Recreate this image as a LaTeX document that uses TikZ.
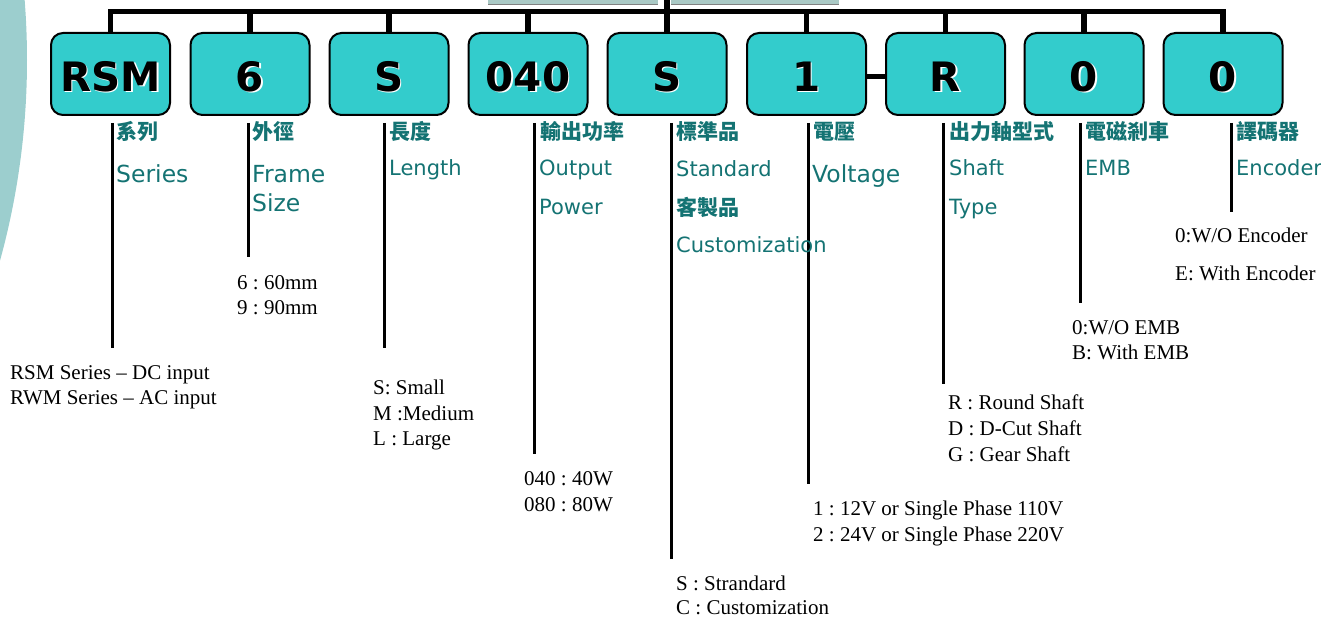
\documentclass[tikz,border=0pt]{standalone}
\usepackage{fontspec}
\setmainfont{Liberation Serif}
\setsansfont{DejaVu Sans}
\newfontfamily\cjkfont{Noto Sans CJK TC}
\frenchspacing

\definecolor{boxcyan}{RGB}{51,204,204}
\definecolor{labteal}{RGB}{20,115,115}
\definecolor{bgteal}{RGB}{156,206,206}
\definecolor{photogray}{RGB}{170,201,197}

\newcommand{\shadowed}[1]{\rlap{\kern1.5pt\raisebox{-1.5pt}{\color{white}#1}}#1}

\tikzset{
  codebox/.style={draw=black, line width=2pt, fill=boxcyan, rounded corners=12pt,
    minimum width=119pt, minimum height=82pt, inner sep=0pt,
    text height=35pt, text depth=0pt, font=\sffamily\bfseries\fontsize{40.5}{41}\selectfont},
  cjklab/.style={anchor=base west, inner sep=0pt, text=labteal,
    font=\cjkfont\bfseries\fontsize{21}{21}\selectfont},
  englab/.style={anchor=base west, inner sep=0pt, text=labteal,
    font=\sffamily\fontsize{21}{21}\selectfont},
  englabbig/.style={englab, font=\sffamily\fontsize{23.5}{24}\selectfont},
  desc/.style={anchor=base west, inner sep=0pt, font=\fontsize{21}{21}\selectfont},
  bus/.style={line width=5.5pt},
  drop/.style={line width=3pt},
}

\begin{document}
\begin{tikzpicture}[x=1pt, y=-1pt]
\useasboundingbox (0,0) rectangle (1321,617);
\clip (0,0) rectangle (1321,617);

% background shapes
\fill[bgteal] (-727,60) circle (754pt);
\fill[photogray] (488,-5) rectangle (658,4.5);
\fill[photogray] (671,-5) rectangle (839,4.5);
\draw[gray, line width=0.8pt] (488,4.5) -- (658,4.5) (671,4.5) -- (839,4.5);

% the code boxes
\node[codebox] (series) at (110.5,74) {\shadowed{RSM}};
\node[codebox] (frame)  at (250,74)   {\shadowed{6}};
\node[codebox] (length) at (389,74)   {\shadowed{S}};
\node[codebox] (power)  at (528,74)   {\shadowed{040}};
\node[codebox] (std)    at (667,74)   {\shadowed{S}};
\node[codebox] (volt)   at (806.5,74) {\shadowed{1}};
\node[codebox] (shaft)  at (945.5,74) {\shadowed{R}};
\node[codebox] (emb)    at (1084,74)  {\shadowed{0}};
\node[codebox] (enc)    at (1223,74)  {\shadowed{0}};

% bus on top
\coordinate (bustop) at (667,13);
\coordinate (photo) at (667,0);
\draw[bus] (series.north) -- ++(0,-20.5) -| (enc.north);
\draw[bus] (frame.north) -- (frame.north |- bustop);
\draw[bus] (length.north) -- (length.north |- bustop);
\draw[bus] (power.north) -- (power.north |- bustop);
\draw[bus] (std.north) -- (bustop) -- (photo);
\draw[bus] (volt.north) -- (volt.north |- bustop);
\draw[bus] (shaft.north) -- (shaft.north |- bustop);
\draw[bus] (emb.north) -- (emb.north |- bustop);
\draw[line width=5pt] ([yshift=-2.5pt]volt.east) -- ([yshift=-2.5pt]shaft.west);

% drop lines
\coordinate (d1t) at (112,123);  \coordinate (d1b) at (112,348);
\coordinate (d2t) at (248,123);  \coordinate (d2b) at (248,257);
\coordinate (d3t) at (384,123);  \coordinate (d3b) at (384,348);
\coordinate (d4t) at (534,123);  \coordinate (d4b) at (534,454);
\coordinate (d5t) at (671,123);  \coordinate (d5b) at (671,559);
\coordinate (d6t) at (808,123);  \coordinate (d6b) at (808,484);
\coordinate (d7t) at (943,123);  \coordinate (d7b) at (943,384);
\coordinate (d8t) at (1080,123); \coordinate (d8b) at (1080,303);
\coordinate (d9t) at (1231,123); \coordinate (d9b) at (1231,212);
\draw[drop] (d1t) -- (d1b);
\draw[drop] (d2t) -- (d2b);
\draw[drop] (d3t) -- (d3b);
\draw[drop] (d4t) -- (d4b);
\draw[drop] (d5t) -- (d5b);
\draw[drop] (d6t) -- (d6b);
\draw[drop] (d7t) -- (d7b);
\draw[drop] (d8t) -- (d8b);
\draw[drop] (d9t) -- (d9b);

% labels under the boxes
\node[cjklab] (l1a) at (116,140) {系列};
\node[englabbig] (l1b) at (116,183) {Series};
\node[cjklab] (l2a) at (252,140) {外徑};
\node[englabbig] (l2b) at (252,183) {Frame};
\node[englabbig] (l2c) at (252,212) {Size};
\node[cjklab] (l3a) at (389,140) {長度};
\node[englab] (l3b) at (389,176) {Length};
\node[cjklab] (l4a) at (540,140) {輸出功率};
\node[englab] (l4b) at (539,176) {Output};
\node[englab] (l4c) at (539,215) {Power};
\node[cjklab] (l5a) at (676,140) {標準品};
\node[englab] (l5b) at (676,177) {Standard};
\node[cjklab] (l5c) at (676,216) {客製品};
\node[englab] (l5d) at (676,253) {Customization};
\node[cjklab] (l6a) at (813,140) {電壓};
\node[englabbig] (l6b) at (812,183) {Voltage};
\node[cjklab] (l7a) at (949,140) {出力軸型式};
\node[englab] (l7b) at (949,176) {Shaft};
\node[englab] (l7c) at (949,215) {Type};
\node[cjklab] (l8a) at (1085,140) {電磁剎車};
\node[englab] (l8b) at (1085,176) {EMB};
\node[cjklab] (l9a) at (1236,140) {譯碼器};
\node[englab] (l9b) at (1236,176) {Encoder};

% option texts
\node[desc] (o1a) at (10,379) {RSM Series – DC input};
\node[desc] (o1b) at (10,404) {RWM Series – AC input};
\node[desc] (o2a) at (237,290) {6 : 60mm};
\node[desc] (o2b) at (237,314) {9 : 90mm};
\node[desc] (o3a) at (373,394) {S: Small};
\node[desc] (o3b) at (373,420) {M :Medium};
\node[desc] (o3c) at (373,445) {L : Large};
\node[desc] (o4a) at (524,485) {040 : 40W};
\node[desc] (o4b) at (524,511) {080 : 80W};
\node[desc] (o5a) at (676,590) {S : Strandard};
\node[desc] (o5b) at (676,614) {C : Customization};
\node[desc] (o6a) at (813,515) {1 : 12V or Single Phase 110V};
\node[desc] (o6b) at (813,541) {2 : 24V or Single Phase 220V};
\node[desc] (o7a) at (948,409) {R : Round Shaft};
\node[desc] (o7b) at (948,435) {D : D-Cut Shaft};
\node[desc] (o7c) at (948,461) {G : Gear Shaft};
\node[desc] (o8a) at (1072,334) {0:W/O EMB};
\node[desc] (o8b) at (1072,359) {B: With EMB};
\node[desc] (o9a) at (1175,243) {0:W/O Encoder};
\node[desc] (o9b) at (1175,281) {E: With Encoder};
\end{tikzpicture}
\end{document}
